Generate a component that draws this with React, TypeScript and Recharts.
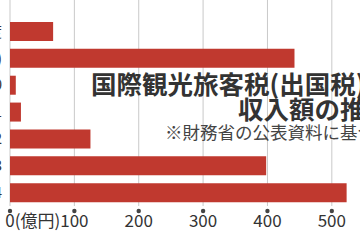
import { BarChart, Bar, XAxis, YAxis, CartesianGrid } from 'recharts'

// fiscal years (labels are mostly cut off at the left edge in the reference)
const years = ['2018年度', '19(令和元)', '20', '21', '22', '23', '24']
// revenue, 億円
const revenue = [67, 442, 9, 17, 125, 398, 523]
const xTicks = [0, 100, 200, 300, 400, 500]

const titleLine1 = '国際観光旅客税(出国税)'
const titleLine2 = '収入額の推移'
const note = '※財務省の公表資料に基づく'

const chartData = years.map((year, i) => ({ year, revenue: revenue[i] }))

const FONT = '"Noto Sans CJK JP", "Noto Sans", sans-serif'

function XTick(props: any) {
  const { x, y, payload } = props
  const isZero = payload.value === 0
  return (
    <g>
      <circle cx={x} cy={y + 5} r={2.2} fill="#444" />
      <text
        x={isZero ? x - 4.7 : x}
        y={y + 20.5}
        textAnchor={isZero ? 'start' : 'middle'}
        fontSize={17}
        fontFamily={FONT}
        fill="#333"
      >
        {isZero ? '0(億円)' : payload.value}
      </text>
    </g>
  )
}

export default function App() {
  return (
    <div
      style={{
        position: 'absolute',
        left: 0,
        top: 0,
        width: 360,
        height: 240,
        overflow: 'hidden',
        background: '#fff',
      }}
    >
      <div style={{ position: 'absolute', left: -40, top: 0 }}>
        <BarChart
          width={404}
          height={240}
          data={chartData}
          layout="vertical"
          margin={{ top: 0, right: 0, bottom: 0, left: 0 }}
        >
          <CartesianGrid horizontal={false} stroke="#c9c9c9" />
          <XAxis
            type="number"
            domain={[0, 550]}
            ticks={xTicks}
            height={34}
            axisLine={false}
            tickLine={false}
            tickSize={0}
            tickMargin={0}
            tick={<XTick />}
            interval={0}
          />
          <YAxis
            type="category"
            dataKey="year"
            width={50}
            axisLine={false}
            tickLine={false}
            tickSize={0}
            tickMargin={8}
            padding={{ top: 18, bottom: 0 }}
            tick={{ fontSize: 15, fill: '#333', fontFamily: FONT }}
            interval={0}
          />
          <Bar dataKey="revenue" fill="#c0392f" barSize={19} isAnimationActive={false} />
        </BarChart>
      </div>
      <svg
        width={360}
        height={240}
        style={{ position: 'absolute', left: 0, top: 0, pointerEvents: 'none' }}
      >
        <text x={91} y={94} fontSize={25.5} fontWeight="bold" fontFamily={FONT} fill="#333">
          {titleLine1}
        </text>
        <text x={238} y={119} fontSize={25.5} fontWeight="bold" fontFamily={FONT} fill="#333">
          {titleLine2}
        </text>
        <text x={165} y={139} fontSize={17.5} fontFamily={FONT} fill="#444">
          {note}
        </text>
      </svg>
    </div>
  )
}
